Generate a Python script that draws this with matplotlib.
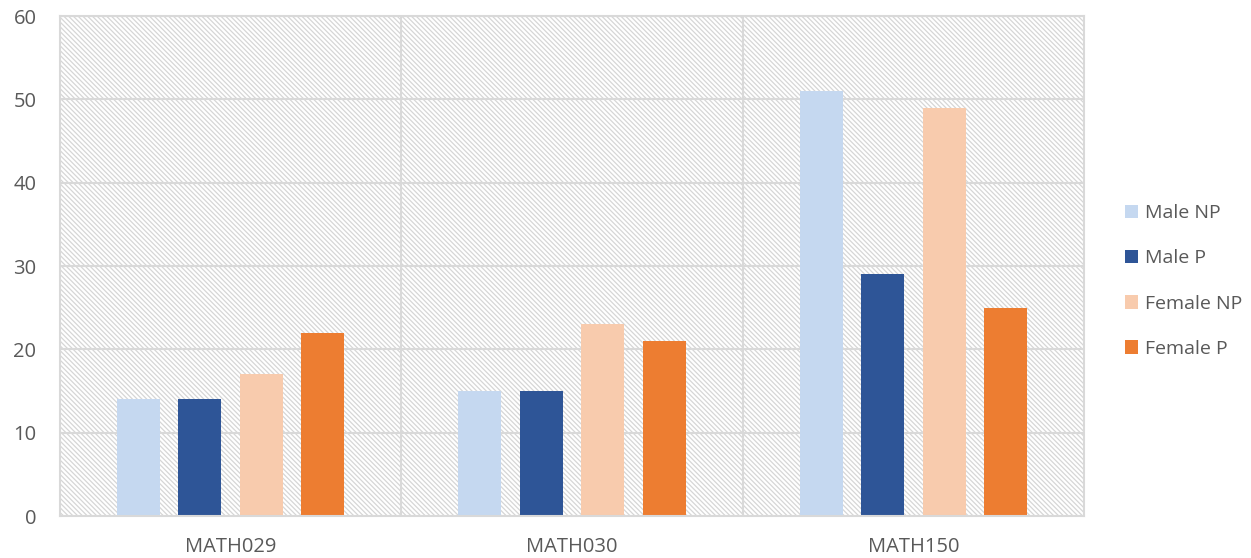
import matplotlib
matplotlib.use("Agg")
import matplotlib.pyplot as plt
import numpy as np
from matplotlib.patches import Rectangle, Patch

categories = ["MATH029", "MATH030", "MATH150"]
series_names = ["Male NP", "Male P", "Female NP", "Female P"]
male_np = [14, 15, 51]
male_p = [14, 15, 29]
female_np = [17, 23, 49]
female_p = [22, 21, 25]
colors = ["#c5d8f0", "#2e5597", "#f8cbad", "#ed7d31"]
yticks = [0, 10, 20, 30, 40, 50, 60]

plt.rcParams['font.family'] = ['Open Sans', 'DejaVu Sans']
plt.rcParams['hatch.linewidth'] = 0.9

fig = plt.figure(figsize=(12.51, 5.58), dpi=100)
ax = fig.add_axes([60/1251, 42/558, 1024/1251, 500/558])

grid_c = "#d9d9d9"
ax.set_xlim(-0.5, 2.5)
ax.set_ylim(0, 60)

bg = Rectangle((0, 0), 1, 1, transform=ax.transAxes, facecolor="white",
               edgecolor="#d6d6d6", hatch="\\" * 7, linewidth=0, zorder=0)
ax.add_patch(bg)

for y in yticks[1:]:
    ax.axhline(y, color=grid_c, lw=1.5, zorder=1)
for x in [0.5, 1.5]:
    ax.axvline(x, color=grid_c, lw=1.5, zorder=1)

x = np.arange(len(categories))
step = 0.18
width = 0.126
data = [male_np, male_p, female_np, female_p]
for i, (vals, c, name) in enumerate(zip(data, colors, series_names)):
    ax.bar(x + (i - 1.5) * step, vals, width, color=c, zorder=2, label=name)

for s in ax.spines.values():
    s.set_color(grid_c)
    s.set_linewidth(1.5)

ax.set_xticks(x)
ax.set_xticklabels(categories)
ax.set_yticks(yticks)
ax.tick_params(axis='both', length=0, labelsize=14.5, colors="#595959")
ax.tick_params(axis='x', pad=15)
ax.tick_params(axis='y', pad=17)

handles = [Patch(facecolor=c, label=n) for c, n in zip(colors, series_names)]
leg = fig.legend(handles=handles, loc='center left', bbox_to_anchor=(1107/1251, 1 - 281/558),
                 frameon=False, fontsize=14, labelcolor="#595959", handlelength=0.7,
                 handleheight=0.7, handletextpad=0.35, labelspacing=1.4)

fig.savefig("out.png", dpi=100)
